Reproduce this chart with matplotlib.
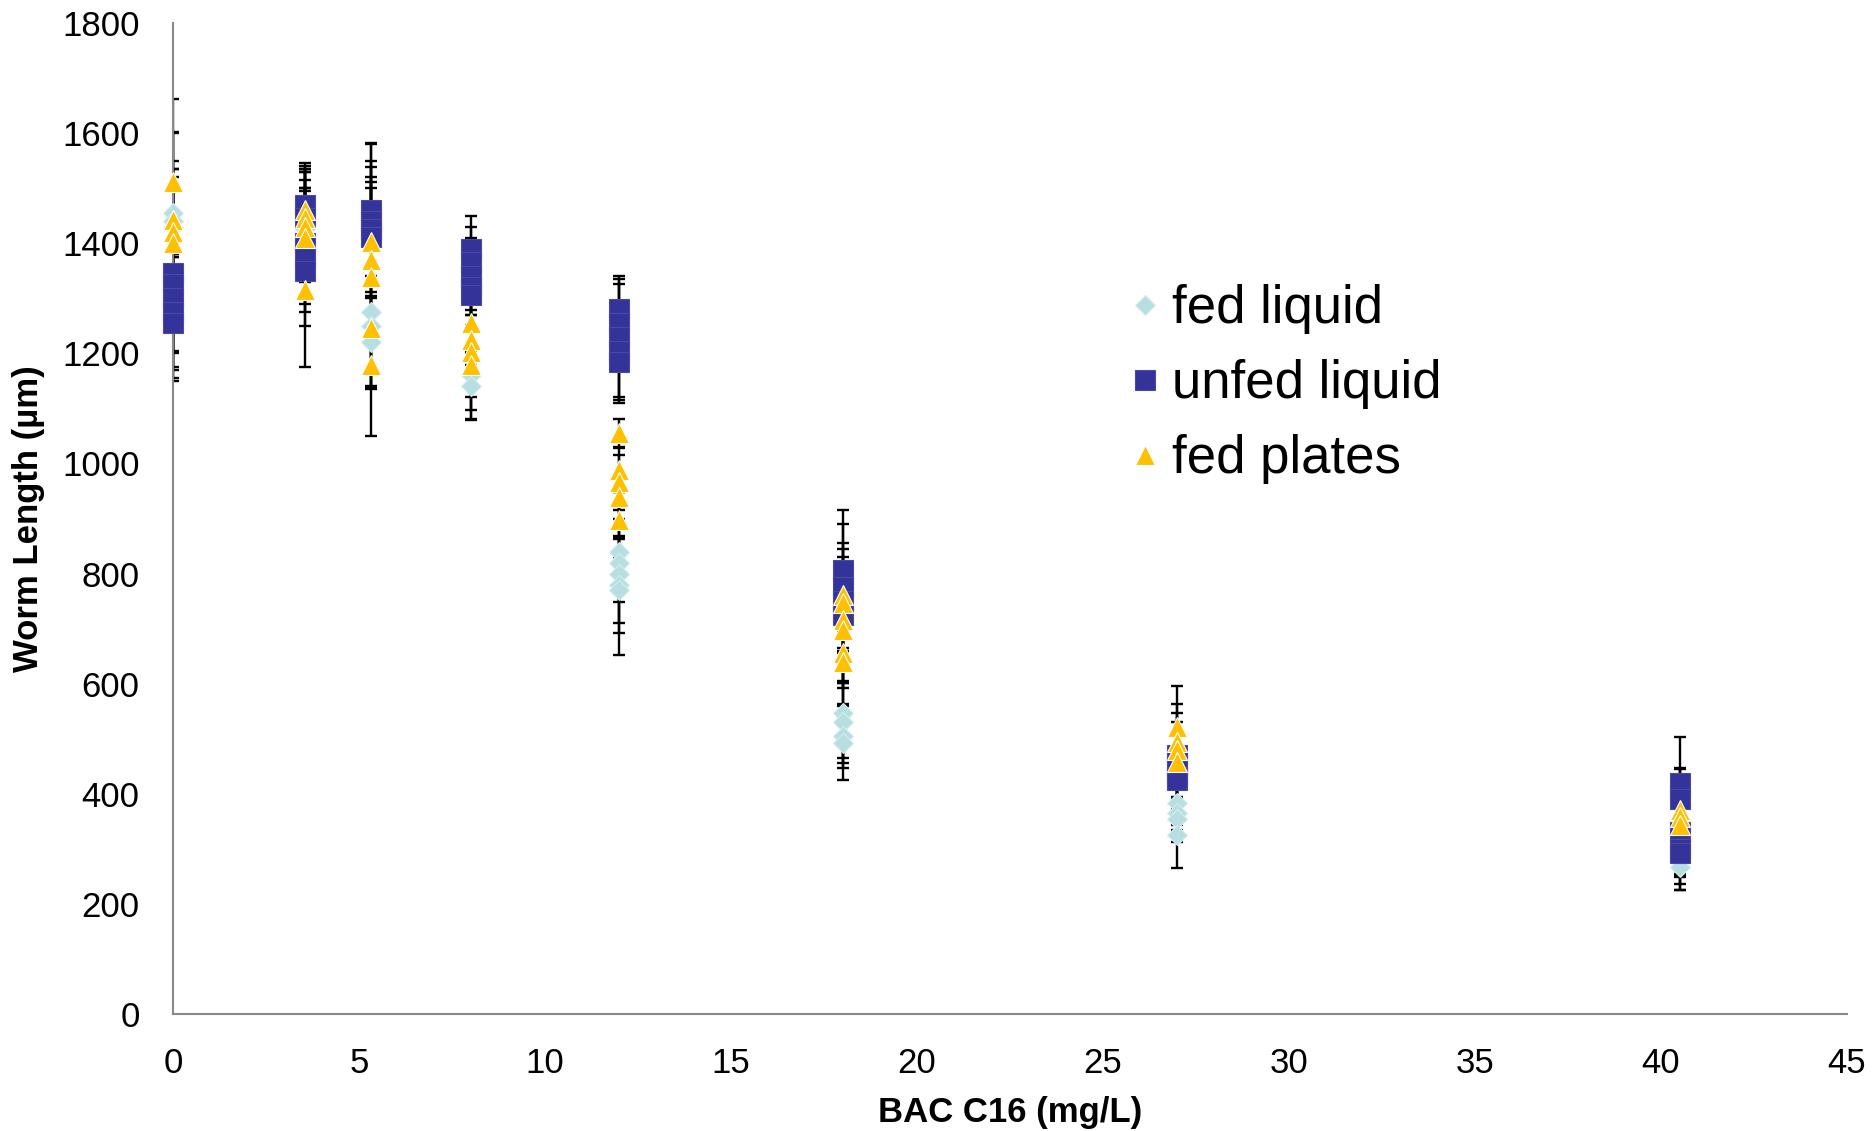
import matplotlib.pyplot as plt

plt.rcParams['font.family'] = ['Liberation Sans', 'DejaVu Sans']

# BAC C16 concentrations (mg/L)
x_conc = [0, 3.56, 5.33, 8, 12, 18, 27, 40.5]

# replicate worm lengths (um) and error per concentration
fed_liquid_y = [[1455, 1440, 1430], [1450, 1435, 1425], [1275, 1250, 1220], [1160, 1140],
                [840, 820, 800, 780, 770], [547, 530, 505, 492], [383, 365, 355, 325], [300, 280, 267]]
fed_liquid_err = [[80, 60, 90], [50, 80, 70], [30, 25, 80], [40, 60],
                  [25, 72, 148, 88, 60], [82, 74, 58, 67], [40, 53, 20, 60], [11, 31, 42]]

unfed_y = [[1345, 1325, 1300, 1275, 1255], [1470, 1445, 1400, 1375, 1350], [1460, 1440, 1425, 1412],
           [1390, 1365, 1340, 1320, 1306], [1280, 1255, 1230, 1205, 1185], [806, 775, 750, 725],
           [470, 450, 430, 425], [420, 390, 330, 300, 292]]
unfed_err = [[190, 120, 130, 100, 105], [75, 90, 100, 100, 100], [120, 110, 95, 100],
             [60, 65, 70, 80, 55], [55, 70, 110, 90, 75], [110, 115, 95, 60],
             [93, 80, 40, 30], [25, 57, 75, 50, 67]]

plates_y = [[1511, 1442, 1420, 1400], [1460, 1445, 1430, 1410, 1315], [1402, 1370, 1339, 1246, 1179],
            [1255, 1224, 1202, 1179], [1055, 988, 966, 939, 897], [761, 746, 716, 697, 656, 639],
            [521, 494, 480, 458], [370, 358, 343]]
plates_err = [[150, 160, 130, 200], [80, 90, 100, 120, 140], [180, 130, 200, 196, 44],
              [50, 45, 105, 100], [25, 40, 50, 40, 35], [30, 40, 114, 158, 55, 47],
              [75, 53, 30, 20], [133, 30, 40]]

# name, values, errors, marker, face colour, edge colour, size
series = [
    ('fed liquid', fed_liquid_y, fed_liquid_err, 'D', '#B7DEE0', '#D5ECEE', 10),
    ('unfed liquid', unfed_y, unfed_err, 's', '#333399', '#4A4AA6', 14.5),
    ('fed plates', plates_y, plates_err, '^', '#FFC000', 'white', 14.5),
]


def flatten(ys, errs):
    xs, yy, ee = [], [], []
    for xc, yl, el in zip(x_conc, ys, errs):
        for v, e in zip(yl, el):
            xs.append(xc)
            yy.append(v)
            ee.append(e)
    return xs, yy, ee


fig = plt.figure(figsize=(18.72, 11.31), dpi=100)
ax = fig.add_axes([0.0924, 0.1034, 0.8942, 0.8763])

# error bars first, under the markers
for name, ys, errs, mk, col, ecol, ms in series:
    xs, yy, ee = flatten(ys, errs)
    ax.errorbar(xs, yy, yerr=ee, fmt='none', ecolor='black', elinewidth=1.7,
                capsize=4.5, capthick=1.7, zorder=2)

for name, ys, errs, mk, col, ecol, ms in series:
    xs, yy, ee = flatten(ys, errs)
    ax.plot(xs, yy, linestyle='none', marker=mk, color=col, markersize=ms,
            markeredgecolor=ecol, markeredgewidth=0.8, label=name,
            zorder=3, clip_on=False)

ax.set_xlim(0, 45)
ax.set_ylim(0, 1800)
ax.set_xticks(range(0, 46, 5))
ax.set_yticks(range(0, 1801, 200))
ax.tick_params(length=0, labelsize=25, pad=24)

for s in ['top', 'right']:
    ax.spines[s].set_visible(False)
for s in ['left', 'bottom']:
    ax.spines[s].set_color('#898989')
    ax.spines[s].set_linewidth(1.5)

ax.set_xlabel('BAC C16 (mg/L)', fontsize=25, fontweight='bold', labelpad=11)
ax.set_ylabel('Worm Length (µm)', fontsize=25, fontweight='bold', labelpad=12)

leg = ax.legend(loc='upper left', bbox_to_anchor=(1103 / 1872, 1 - 258 / 1131),
                bbox_transform=fig.transFigure, frameon=False, fontsize=38,
                handlelength=0.6, handletextpad=0.2, labelspacing=0.47,
                borderpad=0, markerscale=1.0)

fig.savefig('out.png', dpi=100)
